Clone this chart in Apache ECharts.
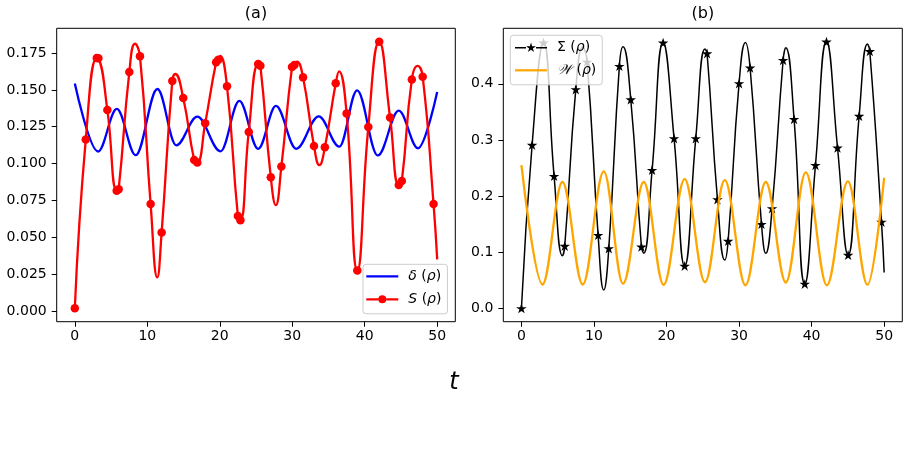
<!DOCTYPE html>
<html>
<head>
<meta charset="utf-8">
<title>delta, S, Sigma, W</title>
<script src="https://cdn.jsdelivr.net/npm/echarts@6/dist/echarts.min.js"></script>
<style>
  html, body { margin: 0; padding: 0; background: #fff; }
  #chart { width: 910px; height: 460px; }
</style>
</head>
<body>
<div id="chart"></div>
<script>
// tick labels
var tTicks = [0, 10, 20, 30, 40, 50];
var yTicksA = [0, 0.025, 0.05, 0.075, 0.1, 0.125, 0.15, 0.175];
var yTicksB = [0, 0.1, 0.2, 0.3, 0.4];

// (a) delta(rho), read at its turning points
var deltaT = [0, 3.2, 5.8, 8.4, 11.4, 14.0, 16.9, 20.1, 22.7, 25.3, 27.75, 30.55, 33.65, 36.5, 38.95, 41.8, 44.7, 47.35, 50];
var deltaV = [0.1543, 0.1082, 0.1371, 0.1057, 0.1506, 0.1124, 0.1318, 0.1083, 0.1425, 0.1100, 0.1391, 0.1100, 0.1321, 0.1115, 0.1497, 0.1055, 0.1360, 0.1104, 0.1486];

// (a) S(rho): marker points
var sMarkT = [0, 1.51, 3.03, 3.25, 4.49, 5.78, 6.05, 7.52, 8.99, 10.46, 11.98, 13.45, 14.96, 16.47, 16.9, 17.99, 19.5, 19.8, 21.0, 22.5, 22.85, 24.0, 25.3, 25.6, 27.04, 28.5, 29.97, 30.3, 31.49, 33.0, 34.5, 36.0, 37.5, 38.98, 40.5, 42.0, 43.5, 44.7, 45.12, 46.5, 48.0, 49.5];
var sMarkV = [0.0018, 0.1163, 0.1716, 0.1714, 0.1364, 0.0816, 0.0826, 0.1621, 0.1728, 0.0725, 0.0533, 0.1560, 0.1445, 0.1025, 0.1008, 0.1274, 0.1687, 0.1705, 0.1524, 0.0645, 0.0615, 0.1215, 0.1675, 0.1664, 0.0908, 0.0980, 0.1655, 0.1669, 0.1585, 0.1120, 0.1110, 0.1545, 0.1340, 0.0274, 0.1249, 0.1827, 0.1312, 0.0854, 0.0881, 0.1570, 0.1590, 0.0725];
// (a) S(rho): turning points between markers + end
var sTurnT = [8.3, 11.38, 13.85, 20.05, 27.73, 30.65, 33.75, 36.45, 47.3, 50];
var sTurnV = [0.1813, 0.0228, 0.1608, 0.1730, 0.0718, 0.1692, 0.0989, 0.1626, 0.1663, 0.0350];

// (b) Sigma(rho): marker points
var sigMarkT = [0, 1.47, 3.05, 4.5, 5.97, 7.49, 9.05, 10.57, 12.04, 13.5, 15.07, 16.54, 18.01, 19.53, 21.04, 22.5, 24.03, 25.59, 27.02, 28.49, 30.0, 31.52, 33.09, 34.55, 36.07, 37.58, 39.06, 40.53, 42.05, 43.57, 45.03, 46.55, 48.02, 49.63];
var sigMarkV = [0, 0.291, 0.473, 0.2356, 0.111, 0.390, 0.439, 0.1305, 0.1068, 0.4315, 0.372, 0.1097, 0.2463, 0.473, 0.3027, 0.0755, 0.3027, 0.454, 0.194, 0.1199, 0.4007, 0.4285, 0.150, 0.178, 0.442, 0.337, 0.0435, 0.255, 0.4748, 0.286, 0.095, 0.3425, 0.458, 0.154];
// (b) Sigma(rho): turning points between markers + end
var sigTurnT = [5.65, 8.45, 11.35, 14.0, 16.86, 25.3, 28.03, 30.88, 33.68, 36.44, 47.7, 50];
var sigTurnV = [0.0937, 0.466, 0.0326, 0.466, 0.098, 0.462, 0.086, 0.4737, 0.098, 0.4641, 0.4707, 0.064];

// (b) W(rho), read at its turning points
var wT = [0, 2.9, 5.65, 8.45, 11.35, 14.0, 16.86, 19.6, 22.5, 25.3, 28.03, 30.88, 33.68, 36.44, 39.2, 42.1, 45.0, 47.7, 50];
var wV = [0.2553, 0.0425, 0.2250, 0.0425, 0.2440, 0.0440, 0.2250, 0.0420, 0.2300, 0.0465, 0.2285, 0.0410, 0.2250, 0.0460, 0.2420, 0.0410, 0.2260, 0.0420, 0.2326];

function pairs(ts, vs) {
    return ts.map(function (t, i) { return [t, vs[i]]; });
}
function merged(a, b) {
    return a.concat(b).sort(function (p, q) { return p[0] - q[0]; });
}
// five pointed star like matplotlib '*'
function star(cx, cy, R) {
    var r = R * 0.382, d = '';
    for (var k = 0; k < 10; k++) {
        var a = -Math.PI / 2 + k * Math.PI / 5;
        var rr = k % 2 ? r : R;
        d += (k ? 'L' : 'M') + (cx + rr * Math.cos(a)).toFixed(3) + ',' + (cy + rr * Math.sin(a)).toFixed(3);
    }
    return d + 'Z';
}

var starSymbol = 'path://' + star(0, 0, 10);
var iconLine = 'path://M0,0H32V2.2H0Z';
var iconCircle = 'path://M0,2.9H12V5.1H0Z M20,2.9H32V5.1H20Z M12,4A4,4,0,1,1,20,4A4,4,0,1,1,12,4Z';
var iconStar = 'path://M0,4.35H11H0Z M0,4.35H11V5.85H0Z M21,4.35H32V5.85H21Z ' + star(16, 5.2, 5.2);

var FONT = 'DejaVu Sans';
var names = {
    'δ (ρ)': '{i|δ} ({i|ρ})',
    'S (ρ)': '{i|S} ({i|ρ})',
    'Σ (ρ)': 'Σ ({i|ρ})',
    '𝒲 (ρ)': '{c|𝒲} ({i|ρ})'
};

function legendBox(left, top, padding, items) {
    return {
        orient: 'vertical', left: left, top: top, padding: padding,
        itemWidth: 32, itemHeight: 14, itemGap: 9,
        backgroundColor: 'rgba(255,255,255,0.8)', borderColor: '#cccccc', borderWidth: 1, borderRadius: 3,
        itemStyle: { borderWidth: 0 },
        selectedMode: false,
        data: items,
        formatter: function (n) { return names[n]; },
        textStyle: {
            fontFamily: FONT, fontSize: 14, lineHeight: 14, color: '#000', padding: [0, 0, 0, 5],
            rich: {
                i: { fontFamily: FONT, fontStyle: 'italic', fontSize: 14, lineHeight: 14, color: '#000' },
                c: { fontFamily: 'DejaVu Serif', fontStyle: 'italic', fontSize: 14, lineHeight: 14, color: '#000' }
            }
        }
    };
}

function xAx(grid) {
    return {
        gridIndex: grid, type: 'value', min: -2.5, max: 52.5,
        axisLine: { show: false, onZero: false },
        axisTick: { show: true, length: 5, lineStyle: { color: '#000', width: 1 }, customValues: tTicks },
        axisLabel: { color: '#000', fontFamily: FONT, fontSize: 14, margin: 8, customValues: tTicks },
        splitLine: { show: false }
    };
}
function yAx(grid, min, max, ticks, digits) {
    return {
        gridIndex: grid, type: 'value', min: min, max: max,
        axisLine: { show: false, onZero: false },
        axisTick: { show: true, length: 5, lineStyle: { color: '#000', width: 1 }, customValues: ticks },
        axisLabel: {
            color: '#000', fontFamily: FONT, fontSize: 14, margin: 10, customValues: ticks,
            formatter: function (v) { return v.toFixed(digits); }
        },
        splitLine: { show: false }
    };
}

var chart = echarts.init(document.getElementById('chart'), null, { renderer: 'canvas' });
chart.setOption({
    animation: false,
    backgroundColor: '#fff',
    textStyle: { fontFamily: FONT },
    grid: [
        { left: 56.7, top: 28.3, width: 398.6, height: 293.4, show: true, borderColor: '#000', borderWidth: 1, backgroundColor: 'transparent' },
        { left: 503.3, top: 28.3, width: 399, height: 293.4, show: true, borderColor: '#000', borderWidth: 1, backgroundColor: 'transparent' }
    ],
    xAxis: [xAx(0), xAx(1)],
    yAxis: [
        yAx(0, -0.0073, 0.1918, yTicksA, 3),
        yAx(1, -0.0238, 0.4988, yTicksB, 1)
    ],
    legend: [
        legendBox(363, 264.3, [5, 6, 7.5, 3.3], [
            { name: 'δ (ρ)', icon: iconLine },
            { name: 'S (ρ)', icon: iconCircle }
        ]),
        legendBox(510.3, 35.3, [5, 6, 7.5, 4.7], [
            { name: 'Σ (ρ)', icon: iconStar },
            { name: '𝒲 (ρ)', icon: iconLine }
        ])
    ],
    graphic: [
        { type: 'text', x: 256, y: 14, style: { text: '(a)', fontFamily: FONT, fontSize: 16, fill: '#000', align: 'center', verticalAlign: 'middle' } },
        { type: 'text', x: 702.8, y: 14, style: { text: '(b)', fontFamily: FONT, fontSize: 16, fill: '#000', align: 'center', verticalAlign: 'middle' } },
        { type: 'text', x: 454, y: 383, style: { text: 't', fontFamily: FONT, fontStyle: 'italic', fontSize: 24, fill: '#000', align: 'center', verticalAlign: 'middle' } }
    ],
    series: [
        {
            name: 'δ (ρ)', type: 'line', xAxisIndex: 0, yAxisIndex: 0, silent: true,
            data: pairs(deltaT, deltaV), smooth: 0.36, smoothMonotone: 'x',
            symbol: 'none', showSymbol: false, color: '#0000ff',
            lineStyle: { color: '#0000ff', width: 2.3 }
        },
        {
            name: 'S (ρ)', type: 'line', xAxisIndex: 0, yAxisIndex: 0, silent: true,
            data: merged(pairs(sMarkT, sMarkV), pairs(sTurnT, sTurnV)), smooth: 0.5,
            symbol: 'none', showSymbol: false, color: '#ff0000',
            lineStyle: { color: '#ff0000', width: 2.3 }
        },
        {
            type: 'scatter', xAxisIndex: 0, yAxisIndex: 0, silent: true, z: 3,
            data: pairs(sMarkT, sMarkV), symbol: 'circle', symbolSize: 8.5,
            itemStyle: { color: '#ff0000', opacity: 1 }
        },
        {
            name: 'Σ (ρ)', type: 'line', xAxisIndex: 1, yAxisIndex: 1, silent: true,
            data: merged(pairs(sigMarkT, sigMarkV), pairs(sigTurnT, sigTurnV)), smooth: 0.5,
            symbol: 'none', showSymbol: false, color: '#000000',
            lineStyle: { color: '#000000', width: 1.5 }
        },
        {
            type: 'scatter', xAxisIndex: 1, yAxisIndex: 1, silent: true, z: 3,
            data: pairs(sigMarkT, sigMarkV), symbol: starSymbol, symbolSize: [10.5, 10],
            itemStyle: { color: '#000000', opacity: 1 }
        },
        {
            name: '𝒲 (ρ)', type: 'line', xAxisIndex: 1, yAxisIndex: 1, silent: true, z: 4,
            data: pairs(wT, wV), smooth: 0.36, smoothMonotone: 'x',
            symbol: 'none', showSymbol: false, color: '#ffa500',
            lineStyle: { color: '#ffa500', width: 2.3 }
        }
    ]
});
</script>
</body>
</html>
